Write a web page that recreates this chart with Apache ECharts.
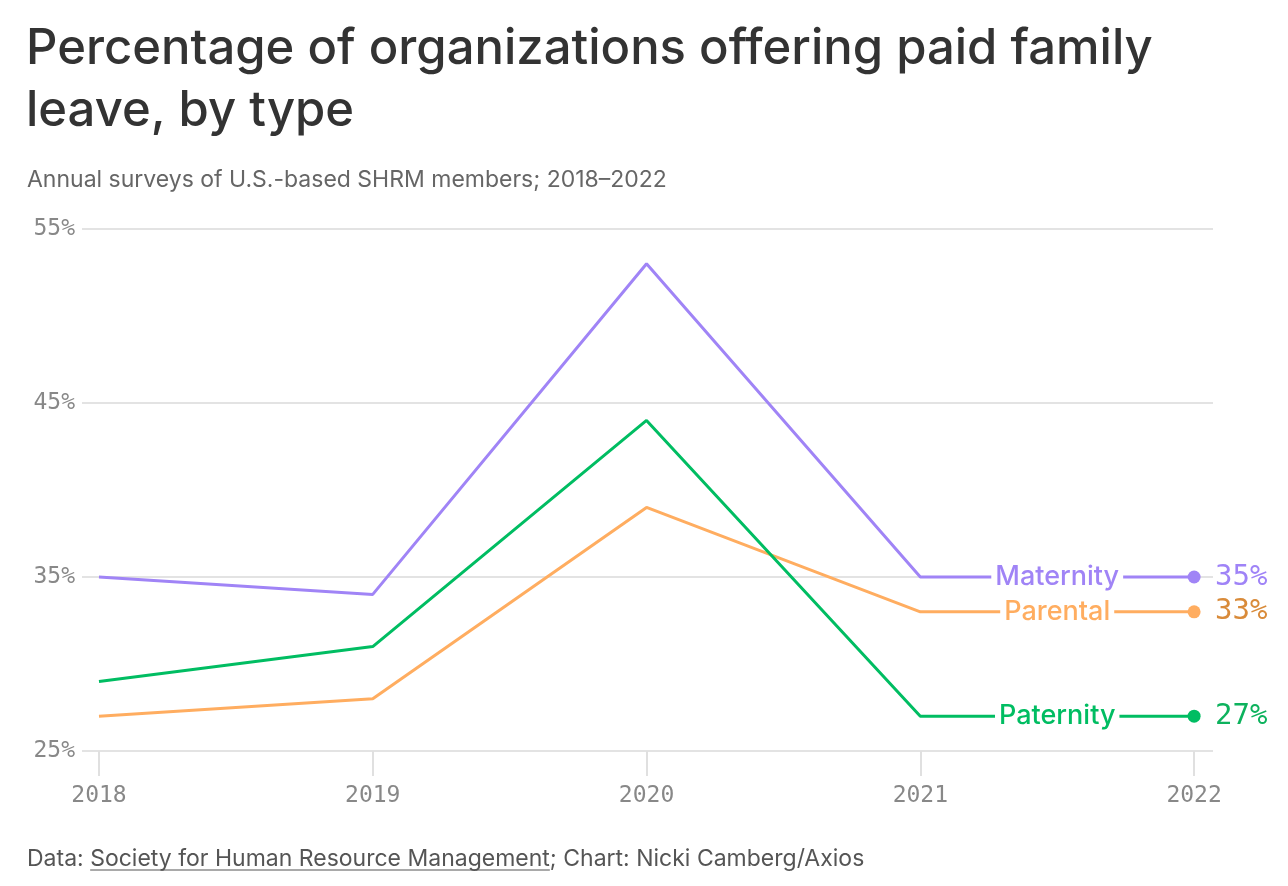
<!DOCTYPE html>
<html>
<head>
<meta charset="utf-8">
<script src="https://cdn.jsdelivr.net/npm/echarts@6/dist/echarts.min.js"></script>
<style>
  html, body { margin: 0; padding: 0; background: #fff; }
  #chart { width: 1288px; height: 886px; }
</style>
</head>
<body>
<div id="chart"></div>
<script>
const years = [2018, 2019, 2020, 2021, 2022];
const maternity = [35, 34, 53, 35, 35];
const parental = [27, 28, 39, 33, 33];
const paternity = [29, 31, 44, 27, 27];
const yTicks = [25, 35, 45, 55];

const SANS = 'Inter, "Noto Sans", sans-serif';
const MONO = '"DejaVu Sans Mono", "Liberation Mono", monospace';

const seriesDefs = [
  { name: 'Maternity', data: maternity, color: '#a084f6', valueColor: '#9f83f7' },
  { name: 'Parental', data: parental, color: '#ffad60', valueColor: '#d98b3a' },
  { name: 'Paternity', data: paternity, color: '#00bd62', valueColor: '#0db25d' }
];

const last = years.length - 1;

const series = seriesDefs.map(s => ({
  name: s.name,
  type: 'line',
  data: years.map((y, i) => [y, s.data[i]]),
  lineStyle: { color: s.color, width: 3 },
  itemStyle: { color: s.color },
  symbol: 'circle',
  showSymbol: true,
  symbolSize: (v, p) => (p.dataIndex === last ? 13 : 0),
  silent: true,
  animation: false,
  z: 3,
  endLabel: {
    show: true,
    formatter: p => p.value[1] + '%',
    color: s.valueColor,
    fontFamily: MONO,
    fontSize: 29,
    distance: 21
  },
  markPoint: {
    symbol: 'circle',
    symbolSize: 0,
    silent: true,
    animation: false,
    data: [{
      coord: [(years[last - 1] + years[last]) / 2, s.data[last]],
      label: {
        show: true,
        position: 'inside',
        formatter: s.name,
        color: s.color,
        fontFamily: SANS,
        fontWeight: 500,
        fontSize: 27,
        backgroundColor: '#fff',
        padding: [0, 4]
      }
    }]
  }
}));

const chart = echarts.init(document.getElementById('chart'), null, { renderer: 'canvas' });

// measure footer pieces for underline
const ctx = document.createElement('canvas').getContext('2d');
const footFont = '400 23px ' + SANS;
ctx.font = footFont;
const fPre = 'Data: ';
const fLink = 'Society for Human Resource Management';
const fPost = '; Chart: Nicki Camberg/Axios';
const wPre = ctx.measureText(fPre).width;
const wLink = ctx.measureText(fLink).width;
const footX = 27, footY = 858;

chart.setOption({
  backgroundColor: '#fff',
  animation: false,
  title: [
    {
      text: 'Percentage of organizations offering paid family\nleave, by type',
      left: 21, top: 13,
      textStyle: { fontFamily: SANS, fontWeight: 500, fontSize: 49, lineHeight: 62, color: '#333' }
    },
    {
      text: 'Annual surveys of U.S.-based SHRM members; 2018–2022',
      left: 22, top: 164,
      textStyle: { fontFamily: SANS, fontWeight: 400, fontSize: 23, color: '#666' }
    }
  ],
  grid: { left: 82, right: 75, top: 229, bottom: 135, containLabel: false },
  xAxis: {
    type: 'value',
    min: 2017.938,
    max: 2022.069,
    axisLine: { show: false },
    splitLine: { show: false },
    axisTick: { show: true, customValues: years, length: 25, lineStyle: { color: '#e0e0e0', width: 2 } },
    axisLabel: {
      customValues: years,
      formatter: v => String(v),
      color: '#888', fontFamily: MONO, fontSize: 23, margin: 34
    }
  },
  yAxis: {
    type: 'value',
    min: 25, max: 55, interval: 5,
    axisLine: { show: false },
    axisTick: { show: false },
    splitLine: { show: true, lineStyle: { color: ['#e3e3e3', 'rgba(0,0,0,0)'], width: 2 } },
    axisLabel: {
      formatter: v => (yTicks.indexOf(v) >= 0 ? v + '%' : ''),
      color: '#888', fontFamily: MONO, fontSize: 23, margin: 7
    }
  },
  series: series,
  graphic: [
    {
      type: 'text', left: footX, top: footY - 10,
      style: { text: fPre + fLink + fPost, font: footFont, fill: '#555' }
    },
    {
      type: 'line', silent: true,
      shape: { x1: footX + wPre, y1: footY + 12, x2: footX + wPre + wLink, y2: footY + 12 },
      style: { stroke: '#555', lineWidth: 1.2 }
    }
  ]
});
</script>
</body>
</html>
